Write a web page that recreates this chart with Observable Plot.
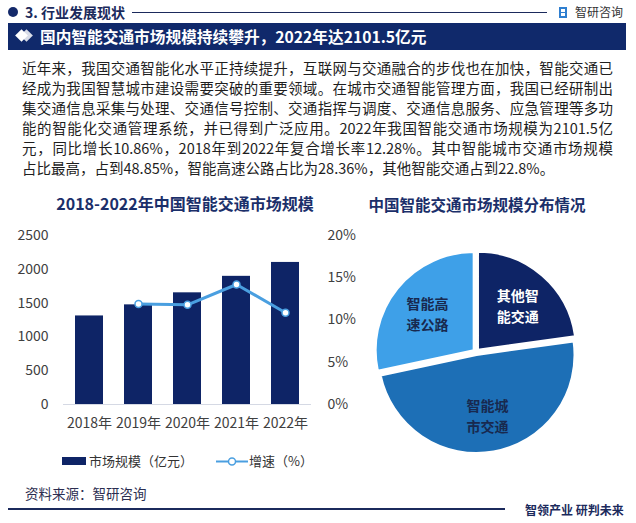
<!DOCTYPE html>
<html><head><meta charset="utf-8">
<script src="https://cdn.jsdelivr.net/npm/d3@7"></script>
<script src="https://cdn.jsdelivr.net/npm/@observablehq/plot@0.6"></script>
<style>
html,body{margin:0;padding:0;background:#fff;}
body{width:636px;height:523px;overflow:hidden;position:relative;font-family:"Noto Sans CJK SC","Noto Sans",sans-serif;color:#222;}
.a{position:absolute;white-space:nowrap;}
#para{left:22px;top:58px;width:591px;font-size:14.5px;line-height:20px;color:#1e1e1e;}
#para div{text-align:justify;text-align-last:justify;white-space:normal;}
#para div.last{text-align-last:left;}
</style></head><body>
<script>
// ---- data ----
const years = ["2018", "2019", "2020", "2021", "2022"];
const marketSize = [1310, 1474, 1652, 1896, 2101.5];
const growthRate = [null, 11.9, 11.8, 14.2, 10.86];
const leftTicks = [0, 500, 1000, 1500, 2000, 2500];
const rightTicks = [0, 5, 10, 15, 20];
const pieCategories = ["其他智\n能交通", "智能城\n市交通", "智能高\n速公路"];
const pieShares = [22.8, 48.85, 28.36];
const paragraphLines = [
  "近年来，我国交通智能化水平正持续提升，互联网与交通融合的步伐也在加快，智能交通已",
  "经成为我国智慧城市建设需要突破的重要领域。在城市交通智能管理方面，我国已经研制出",
  "集交通信息采集与处理、交通信号控制、交通指挥与调度、交通信息服务、应急管理等多功",
  "能的智能化交通管理系统，并已得到广泛应用。2022年我国智能交通市场规模为2101.5亿",
  "元，同比增长10.86%，2018年到2022年复合增长率12.28%。其中智能城市交通市场规模",
  "占比最高，占到48.85%，智能高速公路占比为28.36%，其他智能交通占到22.8%。"
];
</script>

<!-- header -->
<div class="a" style="left:8px;top:7px;width:10px;height:10px;border-radius:50%;background:#14296a;"></div>
<div class="a" style="left:25px;top:2px;line-height:20px;font-size:14px;font-weight:700;color:#1b2a5c;">3. 行业发展现状</div>
<div class="a" style="left:132px;top:12px;width:415px;height:1px;background:#1b2a5c;"></div>
<div class="a" style="left:559px;top:7px;width:8px;height:11px;background:#2f7fd0;"></div>
<div class="a" style="left:561px;top:9px;width:4px;height:3px;background:#fff;"></div>
<div class="a" style="left:561px;top:13px;width:4px;height:3px;background:#fff;"></div>
<div class="a" style="left:575px;top:3px;line-height:18px;font-size:12px;color:#333;">智研咨询</div>

<div class="a" style="left:8px;top:23px;width:618px;height:27px;background:#10296b;"></div>
<div class="a" style="left:22px;top:31px;width:9px;height:9px;background:#d9dde8;transform:rotate(45deg);"></div>
<div class="a" style="left:17px;top:31px;width:9px;height:9px;background:#ffffff;transform:rotate(45deg);"></div>
<div class="a" style="left:40px;top:24px;line-height:26px;font-size:15.7px;font-weight:700;color:#fff;">国内智能交通市场规模持续攀升，2022年达2101.5亿元</div>

<div id="para" class="a"></div>

<!-- chart titles -->
<div class="a" style="left:185px;top:192px;line-height:22px;font-size:16px;font-weight:700;color:#1b2f6a;transform:translateX(-50%);">2018-2022年中国智能交通市场规模</div>
<div class="a" style="left:477px;top:193px;line-height:22px;font-size:15.5px;font-weight:700;color:#1b2f6a;transform:translateX(-50%);">中国智能交通市场规模分布情况</div>

<div id="left" class="a" style="left:0;top:215px;"></div>
<div id="right" class="a" style="left:336px;top:215px;"></div>

<!-- legend -->
<div class="a" style="left:62px;top:457px;width:24px;height:8px;background:#0e2466;"></div>
<div class="a" style="left:89px;top:451px;line-height:20px;font-size:13px;color:#333;">市场规模（亿元）</div>
<svg class="a" style="left:216px;top:455px;" width="32" height="13"><line x1="0" y1="6.5" x2="32" y2="6.5" stroke="#4a9fe0" stroke-width="2"/><circle cx="16" cy="6.5" r="3.5" fill="#fff" stroke="#4a9fe0" stroke-width="1.5"/></svg>
<div class="a" style="left:249px;top:451px;line-height:20px;font-size:13px;color:#333;">增速（%）</div>

<!-- footer -->
<div class="a" style="left:25px;top:483px;line-height:20px;font-size:13.5px;color:#2b2d50;">资料来源：智研咨询</div>
<div class="a" style="left:8px;top:508px;width:497px;height:1.5px;background:#1b2a5c;"></div>
<div class="a" style="left:525px;top:501px;line-height:18px;font-size:12px;font-weight:700;color:#1b2a5c;">智领产业 研判未来</div>

<script>
// paragraph
const para = document.getElementById("para");
paragraphLines.forEach((t, i) => {
  const d = document.createElement("div");
  d.textContent = t;
  if (i === paragraphLines.length - 1) d.className = "last";
  para.appendChild(d);
});

// ---- left chart ----
const barRows = years.map((y, i) => ({year: y, size: marketSize[i]}));
const growthRows = years.map((y, i) => ({year: y, rate: growthRate[i]})).filter(d => d.rate != null);
const k = 2500 / 20;

const left = Plot.plot({
  width: 365, height: 225,
  marginTop: 20, marginBottom: 36, marginLeft: 63, marginRight: 54,
  style: {fontSize: "14px", fontFamily: '"Noto Sans CJK SC","Noto Sans",sans-serif', color: "#404040", background: "transparent"},
  x: {domain: years, paddingInner: 0.43, paddingOuter: 0.22, label: null},
  y: {domain: [0, 2500], label: null},
  marks: [
    Plot.axisY(leftTicks, {anchor: "left", tickSize: 0, tickPadding: 15, label: null, tickFormat: d => String(d)}),
    Plot.axisY(rightTicks.map(v => v * k), {anchor: "right", tickSize: 0, tickPadding: 16, label: null, tickFormat: d => (d / k) + "%"}),
    Plot.axisX({tickSize: 0, tickPadding: 14, label: null, tickFormat: d => d + "年"}),
    Plot.barY(barRows, {x: "year", y: "size", fill: "#0e2466"}),
    Plot.ruleY([0], {stroke: "#d5d9e4", strokeWidth: 1}),
    Plot.line(growthRows, {x: "year", y: d => d.rate * k, stroke: "#4a9fe0", strokeWidth: 3}),
    Plot.dot(growthRows, {x: "year", y: d => d.rate * k, r: 3.5, fill: "#fff", stroke: "#4a9fe0", strokeWidth: 1.5})
  ]
});
document.getElementById("left").appendChild(left);

// ---- right chart (pie) ----
const pieColors = ["#0e2466", "#1d6fb6", "#3ea0e8"];
const labelColors = ["#ffffff", "#18294f", "#18294f"];
const cx = 140, cy = 137, R = 98, explode = 3, labelR = 60;
const pieRows = pieCategories.map((c, i) => ({cat: c, share: pieShares[i], color: pieColors[i], lc: labelColors[i]}));
const arcs = d3.pie().sort(null).value(d => d.share)(pieRows);
const labelRows = arcs.map(a => {
  const m = (a.startAngle + a.endAngle) / 2;
  return {
    text: a.data.cat, color: a.data.lc,
    x: cx + (labelR + explode) * Math.sin(m),
    y: cy - (labelR + explode) * Math.cos(m)
  };
});
function pieMark() {
  const arc = d3.arc().innerRadius(0).outerRadius(R);
  const g = d3.create("svg:g");
  g.selectAll("path").data(arcs).join("path")
    .attr("transform", d => {
      const m = (d.startAngle + d.endAngle) / 2;
      return `translate(${cx + explode * Math.sin(m)},${cy - explode * Math.cos(m)})`;
    })
    .attr("d", arc)
    .attr("fill", d => d.data.color)
    .attr("stroke", "#fff")
    .attr("stroke-width", 2);
  return g.node();
}
const right = Plot.plot({
  width: 300, height: 250, margin: 0,
  style: {fontFamily: '"Noto Sans CJK SC","Noto Sans",sans-serif', background: "transparent"},
  x: {type: "identity", axis: null},
  y: {type: "identity", axis: null},
  marks: [
    pieMark,
    Plot.text(labelRows, {x: "x", y: "y", text: "text", fill: "color", fontSize: 14, fontWeight: 600, lineHeight: 1.5})
  ]
});
document.getElementById("right").appendChild(right);
</script>
</body></html>
